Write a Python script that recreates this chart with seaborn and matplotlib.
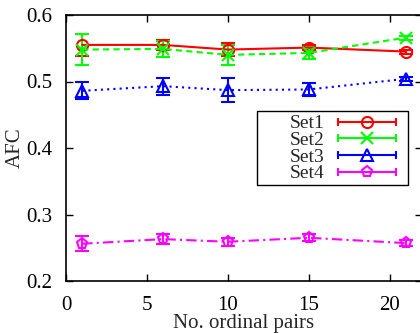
import numpy as np
import pandas as pd
import matplotlib
matplotlib.use("Agg")
import matplotlib.pyplot as plt
import seaborn as sns
from matplotlib.lines import Line2D
from matplotlib.patches import Rectangle
from matplotlib.legend_handler import HandlerBase

x_vals = [1, 6, 10, 15, 21]
series_names = ["Set1", "Set2", "Set3", "Set4"]
set1 = [0.555, 0.555, 0.548, 0.551, 0.545]
set1_err = [0.017, 0.008, 0.010, 0.004, 0.003]
set2 = [0.548, 0.549, 0.540, 0.543, 0.566]
set2_err = [0.023, 0.012, 0.015, 0.009, 0.003]
set3 = [0.486, 0.493, 0.487, 0.488, 0.504]
set3_err = [0.013, 0.013, 0.018, 0.010, 0.003]
set4 = [0.256, 0.263, 0.259, 0.265, 0.257]
set4_err = [0.011, 0.007, 0.006, 0.005, 0.004]
x_ticks = [0, 5, 10, 15, 20]
y_ticks = [0.2, 0.3, 0.4, 0.5, 0.6]

values = [set1, set2, set3, set4]
errors = [set1_err, set2_err, set3_err, set4_err]
colors = ["#ff0000", "#00ff00", "#0000ff", "#ff00ff"]
markers = ["o", "x", "^", "p"]
linestyles = ["-", (0, (3, 2)), (0, (1, 2)), (0, (5, 2, 1, 2))]

rows = []
for name, v, e in zip(series_names, values, errors):
    for xi, yi, ei in zip(x_vals, v, e):
        rows.append({"x": xi, "AFC": yi, "err": ei, "set": name})
df = pd.DataFrame(rows)

sns.set_style("ticks")
plt.rcParams["font.family"] = ["Liberation Serif", "DejaVu Serif"]
plt.rcParams["font.size"] = 15

fig = plt.figure(figsize=(4.2, 3.33), dpi=100)
ax = fig.add_axes([66 / 420, 1 - 281 / 333, 356 / 420, 266 / 333])

for name, c, m, ls in zip(series_names, colors, markers, linestyles):
    sub = df[df["set"] == name]
    ax.errorbar(sub["x"], sub["AFC"], yerr=sub["err"], fmt="none", ecolor=c,
                elinewidth=1.5, capsize=5, capthick=1.5, zorder=3)
    sns.lineplot(data=sub, x="x", y="AFC", ax=ax, color=c, linestyle=ls,
                 linewidth=1.5, marker=m, markersize=8,
                 markerfacecolor="none", markeredgecolor=c, markeredgewidth=1.5,
                 legend=False, zorder=4)


class CapHandler(HandlerBase):
    def __init__(self, color, marker):
        super().__init__()
        self.color = color
        self.marker = marker

    def create_artists(self, legend, orig_handle, xdescent, ydescent, width,
                       height, fontsize, trans):
        y = height / 2 - ydescent
        x0, x1 = -xdescent, width - xdescent
        line = Line2D([x0, x1], [y, y], color=self.color, lw=1.5)
        caps = Line2D([x0, x1], [y, y], ls="", marker="|", ms=6,
                      mew=1.5, color=self.color)
        mk = Line2D([(x0 + x1) / 2], [y], ls="", marker=self.marker, ms=8,
                    mfc="none", mec=self.color, mew=1.5)
        for a in (line, caps, mk):
            a.set_transform(trans)
        return [line, caps, mk]


# legend frame box (gnuplot style, wider than its content)
bx0, bx1 = (257 - 66) / 356, (408 - 66) / 356
by0, by1 = (281 - 185) / 266, (281 - 111) / 266
ax.add_patch(Rectangle((bx0, by0), bx1 - bx0, by1 - by0, transform=ax.transAxes,
                       facecolor="white", edgecolor="black", linewidth=1.0,
                       zorder=5))

handles = [Line2D([], [], color=c) for c in colors]
hmap = {h: CapHandler(c, m) for h, c, m in zip(handles, colors, markers)}
leg = ax.legend(handles, series_names, handler_map=hmap, markerfirst=False,
                loc="upper right",
                bbox_to_anchor=((402 - 66) / 356, (281 - 109) / 266),
                borderaxespad=0, fontsize=14, handlelength=3.0, handletextpad=0.7,
                labelspacing=-0.05, borderpad=0.3, frameon=False)
leg.set_zorder(6)

ax.set_xlim(0, 22)
ax.set_ylim(0.2, 0.6)
ax.set_xticks(x_ticks)
ax.set_yticks(y_ticks)
ax.set_yticklabels([f"{t:.1f}" for t in y_ticks])
ax.set_xlabel("No. ordinal pairs", labelpad=-1)
ax.set_ylabel("AFC", labelpad=1)
ax.tick_params(direction="in", length=5, width=1, top=True, right=True,
               labelsize=15, colors="black")
ax.tick_params(axis="y", pad=10)
ax.tick_params(axis="x", pad=11)
for s in ax.spines.values():
    s.set_linewidth(1.2)
    s.set_color("black")

fig.savefig("out.png", dpi=100)
